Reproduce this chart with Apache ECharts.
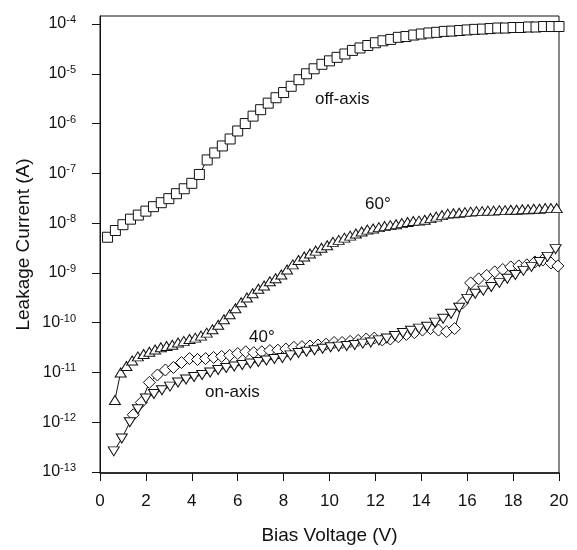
<!DOCTYPE html>
<html>
<head>
<meta charset="utf-8">
<script src="https://cdn.jsdelivr.net/npm/echarts@6/dist/echarts.min.js"></script>
<style>html,body{margin:0;padding:0;background:#fff}#c{width:577px;height:550px}</style>
</head>
<body>
<div id="c"></div>
<script>
var xTicks = [0,2,4,6,8,10,12,14,16,18,20];
var yTickExponents = [-13,-12,-11,-10,-9,-8,-7,-6,-5,-4];

var offAxisV = [0.33,0.67,1,1.33,1.67,2,2.33,2.67,3,3.33,3.67,4,4.33,4.67,5,5.33,5.67,6,6.33,6.67,7,7.33,7.67,8,8.33,8.67,9,9.33,9.67,10,10.33,10.67,11,11.33,11.67,12,12.33,12.67,13,13.33,13.67,14,14.33,14.67,15,15.33,15.67,16,16.33,16.67,17,17.33,17.67,18,18.33,18.67,19,19.33,19.67,20];
var offAxisI = [5.2e-9,7.1e-9,9.3e-9,1.2e-8,1.45e-8,1.74e-8,2.14e-8,2.57e-8,3.1e-8,3.9e-8,4.9e-8,6.3e-8,9.5e-8,1.86e-7,2.57e-7,3.55e-7,4.9e-7,7.1e-7,1.0e-6,1.41e-6,1.9e-6,2.57e-6,3.3e-6,4.2e-6,5.6e-6,7.6e-6,1.0e-5,1.26e-5,1.55e-5,1.82e-5,2.14e-5,2.5e-5,2.95e-5,3.3e-5,3.7e-5,4.2e-5,4.6e-5,4.9e-5,5.4e-5,5.6e-5,6.0e-5,6.3e-5,6.6e-5,6.8e-5,7.1e-5,7.2e-5,7.4e-5,7.6e-5,7.8e-5,7.9e-5,8.1e-5,8.3e-5,8.3e-5,8.5e-5,8.5e-5,8.7e-5,8.7e-5,8.9e-5,8.9e-5,8.9e-5];

var deg60V = [0.65,0.9,1.15,1.4,1.65,1.9,2.15,2.4,2.65,2.9,3.15,3.4,3.65,3.9,4.15,4.4,4.65,4.9,5.15,5.4,5.65,5.9,6.15,6.4,6.65,6.9,7.15,7.4,7.65,7.9,8.15,8.4,8.65,8.9,9.15,9.4,9.65,9.9,10.15,10.4,10.65,10.9,11.15,11.4,11.65,11.9,12.15,12.4,12.65,12.9,13.15,13.4,13.65,13.9,14.15,14.4,14.65,14.9,15.15,15.4,15.65,15.9,16.15,16.4,16.65,16.9,17.15,17.4,17.65,17.9,18.15,18.4,18.65,18.9,19.15,19.4,19.65,19.9];
var deg60I = [2.8e-12,1.0e-11,1.35e-11,1.74e-11,2.1e-11,2.35e-11,2.6e-11,2.9e-11,3.2e-11,3.4e-11,3.6e-11,4.0e-11,4.3e-11,4.7e-11,5.0e-11,5.5e-11,6.3e-11,7.4e-11,9.1e-11,1.17e-10,1.48e-10,1.95e-10,2.57e-10,3.2e-10,3.9e-10,4.8e-10,5.6e-10,6.8e-10,7.8e-10,9.3e-10,1.17e-9,1.48e-9,1.82e-9,2.14e-9,2.45e-9,2.8e-9,3.2e-9,3.6e-9,4.2e-9,4.6e-9,5.1e-9,5.6e-9,6.2e-9,6.8e-9,7.4e-9,7.8e-9,8.3e-9,8.7e-9,9.1e-9,9.5e-9,1.0e-8,1.05e-8,1.1e-8,1.12e-8,1.17e-8,1.26e-8,1.35e-8,1.45e-8,1.55e-8,1.58e-8,1.62e-8,1.66e-8,1.7e-8,1.74e-8,1.74e-8,1.78e-8,1.78e-8,1.82e-8,1.82e-8,1.86e-8,1.86e-8,1.9e-8,1.9e-8,1.95e-8,1.95e-8,2.0e-8,2.0e-8,2.0e-8];

var deg40V = [1.45,1.8,2.15,2.5,2.85,3.2,3.55,3.9,4.25,4.6,4.95,5.3,5.65,6.0,6.35,6.7,7.05,7.4,7.75,8.1,8.45,8.8,9.15,9.5,9.85,10.2,10.55,10.9,11.25,11.6,11.95,12.3,12.65,13.0,13.35,13.7,14.05,14.4,14.75,15.1,15.45,15.8,16.15,16.5,16.85,17.2,17.55,17.9,18.25,18.6,18.95,19.3,19.65,19.95];
var deg40I = [1.41e-12,2.5e-12,6.3e-12,8.9e-12,1.12e-11,1.26e-11,1.58e-11,1.9e-11,1.82e-11,1.9e-11,2.0e-11,2.1e-11,2.2e-11,2.4e-11,2.6e-11,2.5e-11,2.6e-11,2.75e-11,2.8e-11,2.95e-11,3.2e-11,3.3e-11,3.4e-11,3.55e-11,3.7e-11,4.0e-11,4.0e-11,4.2e-11,4.4e-11,4.7e-11,4.9e-11,4.5e-11,4.7e-11,5.2e-11,5.8e-11,6.3e-11,7.1e-11,7.6e-11,7.1e-11,6.6e-11,7.6e-11,2.5e-10,6.3e-10,7.6e-10,8.9e-10,1.05e-9,1.17e-9,1.32e-9,1.38e-9,1.45e-9,1.66e-9,1.82e-9,1.58e-9,1.38e-9];

var onAxisV = [0.6,0.95,1.3,1.65,2.0,2.35,2.7,3.05,3.4,3.75,4.1,4.45,4.8,5.15,5.5,5.85,6.2,6.55,6.9,7.25,7.6,7.95,8.3,8.65,9.0,9.35,9.7,10.05,10.4,10.75,11.1,11.45,11.8,12.15,12.5,12.85,13.2,13.55,13.9,14.25,14.6,14.95,15.3,15.65,16.0,16.35,16.7,17.05,17.4,17.75,18.1,18.45,18.8,19.15,19.5,19.85];
var onAxisI = [2.6e-13,4.7e-13,1.0e-12,1.82e-12,3.0e-12,3.7e-12,4.4e-12,5.2e-12,6.3e-12,7.2e-12,8.1e-12,8.9e-12,1.0e-11,1.12e-11,1.23e-11,1.32e-11,1.41e-11,1.51e-11,1.62e-11,1.74e-11,1.86e-11,1.95e-11,2.2e-11,2.45e-11,2.6e-11,2.8e-11,3.0e-11,3.2e-11,3.3e-11,3.4e-11,3.55e-11,3.8e-11,4.0e-11,4.4e-11,4.8e-11,5.4e-11,6.2e-11,6.9e-11,7.6e-11,8.3e-11,1.0e-10,1.2e-10,1.51e-10,2.0e-10,3.0e-10,3.8e-10,4.4e-10,5.2e-10,6.3e-10,7.6e-10,9.1e-10,1.1e-9,1.32e-9,1.66e-9,2.1e-9,3.0e-9];

function pairs(xs, ys){ return xs.map(function(x,i){ return [x, ys[i]]; }); }

var FONT = '"Liberation Sans", Arial, sans-serif';
var chart = echarts.init(document.getElementById('c'), null, {renderer:'canvas'});

function mkSeries(name, xs, ys, symbol, size, rotate){
  return {
    name: name, type: 'line', xAxisIndex: 1, yAxisIndex: 1,
    data: pairs(xs, ys), symbol: symbol, symbolSize: size, symbolRotate: rotate || 0,
    showAllSymbol: true, clip: false, animation: false,
    lineStyle: {color: '#111', width: 1},
    itemStyle: {color: '#fff', borderColor: '#111', borderWidth: 1},
    emphasis: {disabled: true}
  };
}

chart.setOption({
  animation: false,
  backgroundColor: '#fff',
  grid: [
    {left: 100, top: 16, width: 459, height: 461, show: true, borderColor: '#111', borderWidth: 1, backgroundColor: 'transparent'},
    {left: 100, top: 24, width: 459, height: 448}
  ],
  xAxis: [
    {gridIndex: 0, type: 'value', min: xTicks[0], max: xTicks[xTicks.length-1], interval: 2,
     axisLine: {show: true, lineStyle: {color: '#111', width: 1.5}},
     axisTick: {show: true, inside: false, length: 8, lineStyle: {color: '#111'}},
     axisLabel: {margin: 20, fontSize: 17, color: '#111', fontFamily: FONT},
     splitLine: {show: false},
     name: 'Bias Voltage (V)', nameLocation: 'middle', nameGap: 53,
     nameTextStyle: {fontSize: 19, color: '#111', fontFamily: FONT}},
    {gridIndex: 1, type: 'value', min: 0, max: 20, show: false}
  ],
  yAxis: [
    {gridIndex: 0, type: 'value', min: 0, max: 1,
     axisLine: {show: true, lineStyle: {color: '#111', width: 1}},
     axisTick: {show: false}, axisLabel: {show: false}, splitLine: {show: false},
     name: 'Leakage Current (A)', nameLocation: 'middle', nameGap: 67,
     nameTextStyle: {fontSize: 19, color: '#111', fontFamily: FONT}},
    {gridIndex: 1, type: 'log', logBase: 10,
     min: Math.pow(10, yTickExponents[0]), max: Math.pow(10, yTickExponents[yTickExponents.length-1]),
     interval: 1,
     axisLine: {show: false},
     axisTick: {show: true, inside: false, length: 8, lineStyle: {color: '#111'}},
     splitLine: {show: false},
     axisLabel: {
       margin: 24, color: '#111', fontFamily: FONT,
       formatter: function(v){ var e = Math.round(Math.log10(v)); return '{b|10}{s|' + e + '}'; },
       rich: {
         b: {fontSize: 16, fontFamily: FONT, color: '#111', lineHeight: 19},
         s: {fontSize: 11, fontFamily: FONT, color: '#111', verticalAlign: 'top', lineHeight: 12}
       }
     }}
  ],
  series: [
    mkSeries('off-axis', offAxisV, offAxisI, 'rect', 10),
    mkSeries('60°', deg60V, deg60I, 'triangle', [11, 9]),
    mkSeries('40°', deg40V, deg40I, 'diamond', 12),
    mkSeries('on-axis', onAxisV, onAxisI, 'triangle', [11, 9], 180)
  ],
  graphic: [
    {type: 'text', left: 315, top: 91, style: {text: 'off-axis', fontSize: 17, fill: '#111', fontFamily: FONT}},
    {type: 'text', left: 365, top: 196, style: {text: '60°', fontSize: 17, fill: '#111', fontFamily: FONT}},
    {type: 'text', left: 249, top: 329, style: {text: '40°', fontSize: 17, fill: '#111', fontFamily: FONT}},
    {type: 'text', left: 205, top: 384, style: {text: 'on-axis', fontSize: 17, fill: '#111', fontFamily: FONT}}
  ]
});
</script>
</body>
</html>
